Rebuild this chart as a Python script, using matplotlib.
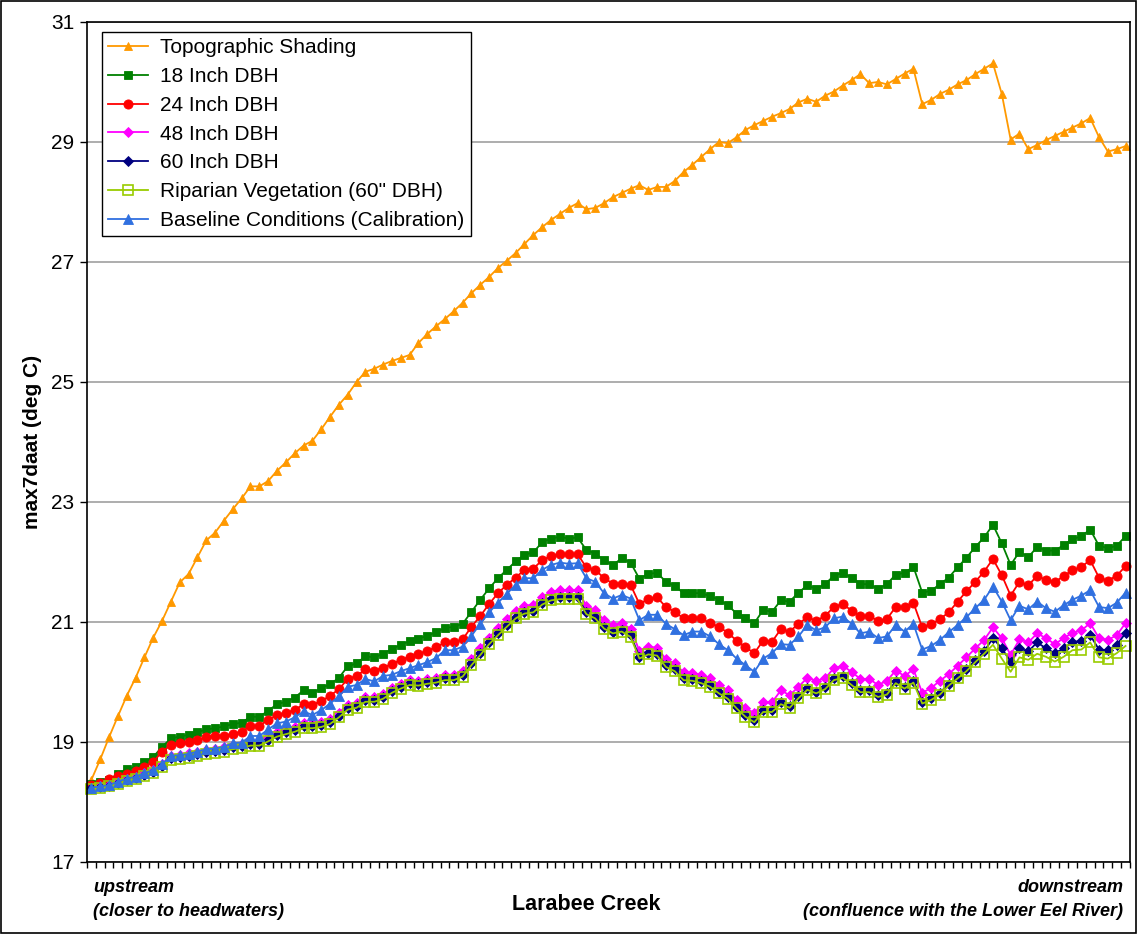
import numpy as np
import matplotlib
matplotlib.use("Agg")
import matplotlib.pyplot as plt
from matplotlib.patches import Rectangle

plt.rcParams.update({
    "font.family": ["Liberation Sans", "DejaVu Sans"],
    "font.size": 15,
})

# max7daat (deg C) along Larabee Creek, upstream -> downstream
topo = [18.37, 18.71, 19.08, 19.43, 19.77, 20.07, 20.41, 20.74, 21.02, 21.34,
        21.66, 21.80, 22.08, 22.36, 22.49, 22.69, 22.88, 23.06, 23.26, 23.26,
        23.35, 23.52, 23.66, 23.81, 23.94, 24.02, 24.21, 24.42, 24.62, 24.79,
        25.00, 25.17, 25.22, 25.29, 25.35, 25.40, 25.45, 25.65, 25.80, 25.93,
        26.05, 26.18, 26.32, 26.48, 26.62, 26.75, 26.90, 27.02, 27.15, 27.30,
        27.45, 27.58, 27.70, 27.80, 27.90, 27.98, 27.88, 27.90, 27.98, 28.08,
        28.15, 28.22, 28.28, 28.20, 28.25, 28.25, 28.35, 28.50, 28.62, 28.75,
        28.88, 29.00, 28.98, 29.08, 29.20, 29.28, 29.35, 29.42, 29.48, 29.55,
        29.66, 29.72, 29.67, 29.77, 29.84, 29.94, 30.03, 30.13, 29.98, 30.00,
        29.96, 30.05, 30.14, 30.22, 29.63, 29.70, 29.80, 29.87, 29.96, 30.03,
        30.13, 30.22, 30.31, 29.80, 29.04, 29.14, 28.88, 28.95, 29.03, 29.10,
        29.17, 29.24, 29.31, 29.40, 29.08, 28.84, 28.88, 28.93]

dbh18 = [18.30, 18.33, 18.37, 18.47, 18.55, 18.58, 18.67, 18.75, 18.92, 19.06,
         19.09, 19.12, 19.16, 19.21, 19.23, 19.26, 19.30, 19.32, 19.42, 19.42,
         19.52, 19.63, 19.67, 19.74, 19.86, 19.81, 19.90, 19.96, 20.07, 20.26,
         20.31, 20.43, 20.41, 20.47, 20.55, 20.62, 20.68, 20.72, 20.77, 20.83,
         20.90, 20.92, 20.97, 21.17, 21.37, 21.56, 21.73, 21.87, 22.01, 22.12,
         22.16, 22.33, 22.39, 22.42, 22.39, 22.41, 22.20, 22.14, 22.03, 21.95,
         22.06, 21.99, 21.72, 21.80, 21.82, 21.67, 21.60, 21.48, 21.48, 21.48,
         21.43, 21.37, 21.28, 21.14, 21.06, 20.98, 21.20, 21.17, 21.36, 21.34,
         21.49, 21.61, 21.55, 21.63, 21.77, 21.82, 21.74, 21.63, 21.63, 21.55,
         21.63, 21.79, 21.82, 21.92, 21.49, 21.52, 21.63, 21.74, 21.91, 22.07,
         22.25, 22.41, 22.62, 22.31, 21.95, 22.17, 22.08, 22.25, 22.19, 22.19,
         22.28, 22.38, 22.43, 22.54, 22.27, 22.23, 22.27, 22.43]

dbh24 = [18.28, 18.32, 18.38, 18.43, 18.47, 18.52, 18.59, 18.67, 18.84, 18.95,
         18.99, 19.00, 19.03, 19.08, 19.10, 19.10, 19.14, 19.17, 19.27, 19.27,
         19.37, 19.45, 19.49, 19.53, 19.63, 19.62, 19.68, 19.77, 19.88, 20.05,
         20.10, 20.21, 20.19, 20.24, 20.30, 20.37, 20.42, 20.47, 20.52, 20.58,
         20.66, 20.66, 20.71, 20.92, 21.10, 21.30, 21.48, 21.62, 21.74, 21.87,
         21.89, 22.03, 22.10, 22.13, 22.13, 22.13, 21.91, 21.87, 21.73, 21.64,
         21.64, 21.62, 21.30, 21.38, 21.41, 21.25, 21.17, 21.06, 21.06, 21.06,
         20.98, 20.92, 20.82, 20.69, 20.58, 20.48, 20.69, 20.67, 20.88, 20.84,
         20.97, 21.08, 21.02, 21.10, 21.25, 21.30, 21.19, 21.10, 21.10, 21.02,
         21.05, 21.25, 21.25, 21.32, 20.91, 20.96, 21.05, 21.16, 21.34, 21.51,
         21.67, 21.84, 22.05, 21.78, 21.44, 21.67, 21.61, 21.77, 21.70, 21.66,
         21.77, 21.86, 21.92, 22.03, 21.74, 21.69, 21.77, 21.93]

dbh48 = [18.24, 18.26, 18.29, 18.34, 18.39, 18.42, 18.48, 18.53, 18.64, 18.77,
         18.79, 18.81, 18.84, 18.87, 18.89, 18.91, 18.95, 18.97, 19.02, 19.02,
         19.09, 19.17, 19.21, 19.25, 19.31, 19.31, 19.33, 19.38, 19.49, 19.62,
         19.65, 19.75, 19.75, 19.80, 19.90, 19.97, 20.03, 20.02, 20.05, 20.07,
         20.12, 20.12, 20.18, 20.38, 20.56, 20.74, 20.90, 21.05, 21.19, 21.27,
         21.29, 21.42, 21.50, 21.53, 21.53, 21.53, 21.27, 21.20, 21.03, 20.95,
         20.98, 20.89, 20.52, 20.59, 20.57, 20.38, 20.31, 20.16, 20.15, 20.12,
         20.06, 19.95, 19.86, 19.70, 19.57, 19.48, 19.66, 19.66, 19.86, 19.78,
         19.92, 20.07, 20.02, 20.06, 20.23, 20.27, 20.17, 20.05, 20.05, 19.95,
         20.02, 20.19, 20.10, 20.21, 19.82, 19.90, 20.02, 20.13, 20.27, 20.41,
         20.56, 20.70, 20.91, 20.73, 20.45, 20.71, 20.66, 20.81, 20.73, 20.63,
         20.73, 20.82, 20.86, 20.98, 20.73, 20.70, 20.78, 20.98]

dbh60 = [18.23, 18.25, 18.27, 18.32, 18.37, 18.40, 18.45, 18.50, 18.60, 18.73,
         18.75, 18.77, 18.80, 18.83, 18.85, 18.87, 18.91, 18.93, 18.97, 18.97,
         19.04, 19.12, 19.16, 19.20, 19.26, 19.26, 19.28, 19.33, 19.44, 19.57,
         19.60, 19.70, 19.70, 19.75, 19.85, 19.92, 19.98, 19.97, 20.00, 20.02,
         20.06, 20.06, 20.12, 20.31, 20.48, 20.66, 20.81, 20.95, 21.09, 21.17,
         21.19, 21.32, 21.39, 21.41, 21.41, 21.41, 21.16, 21.09, 20.92, 20.84,
         20.87, 20.78, 20.42, 20.49, 20.47, 20.28, 20.21, 20.06, 20.05, 20.01,
         19.95, 19.84, 19.75, 19.59, 19.45, 19.36, 19.53, 19.53, 19.66, 19.60,
         19.76, 19.90, 19.84, 19.91, 20.06, 20.10, 19.98, 19.86, 19.86, 19.78,
         19.82, 20.01, 19.92, 20.02, 19.67, 19.73, 19.82, 19.97, 20.09, 20.21,
         20.36, 20.51, 20.73, 20.56, 20.34, 20.56, 20.51, 20.66, 20.56, 20.48,
         20.56, 20.66, 20.69, 20.78, 20.54, 20.53, 20.62, 20.81]

riparian = [18.22, 18.24, 18.26, 18.30, 18.35, 18.38, 18.43, 18.48, 18.58, 18.70,
            18.72, 18.74, 18.77, 18.80, 18.82, 18.84, 18.88, 18.90, 18.94, 18.94,
            19.01, 19.09, 19.13, 19.17, 19.23, 19.23, 19.25, 19.30, 19.41, 19.54,
            19.57, 19.67, 19.67, 19.72, 19.82, 19.89, 19.95, 19.94, 19.97, 19.99,
            20.03, 20.03, 20.09, 20.28, 20.45, 20.63, 20.78, 20.92, 21.06, 21.14,
            21.16, 21.29, 21.36, 21.38, 21.38, 21.38, 21.13, 21.06, 20.89, 20.81,
            20.84, 20.75, 20.39, 20.46, 20.44, 20.25, 20.18, 20.03, 20.02, 19.98,
            19.92, 19.81, 19.72, 19.56, 19.42, 19.33, 19.50, 19.50, 19.63, 19.57,
            19.73, 19.87, 19.81, 19.88, 20.03, 20.07, 19.95, 19.83, 19.83, 19.75,
            19.79, 19.98, 19.89, 19.99, 19.64, 19.70, 19.79, 19.94, 20.06, 20.18,
            20.33, 20.47, 20.62, 20.39, 20.17, 20.41, 20.37, 20.47, 20.42, 20.34,
            20.42, 20.53, 20.54, 20.66, 20.41, 20.39, 20.48, 20.60]

baseline = [18.24, 18.26, 18.28, 18.34, 18.39, 18.42, 18.48, 18.53, 18.63, 18.77,
            18.78, 18.80, 18.84, 18.88, 18.89, 18.92, 18.98, 18.99, 19.10, 19.10,
            19.21, 19.31, 19.34, 19.41, 19.51, 19.45, 19.53, 19.64, 19.76, 19.92,
            19.95, 20.05, 20.01, 20.10, 20.12, 20.18, 20.23, 20.28, 20.33, 20.40,
            20.53, 20.53, 20.59, 20.77, 20.97, 21.16, 21.32, 21.47, 21.62, 21.73,
            21.73, 21.87, 21.95, 21.99, 21.97, 21.98, 21.73, 21.67, 21.48, 21.39,
            21.45, 21.39, 21.03, 21.12, 21.12, 20.97, 20.88, 20.78, 20.84, 20.84,
            20.76, 20.63, 20.53, 20.39, 20.28, 20.17, 20.39, 20.48, 20.63, 20.62,
            20.76, 20.95, 20.86, 20.91, 21.06, 21.09, 20.97, 20.81, 20.84, 20.73,
            20.76, 20.95, 20.84, 20.97, 20.54, 20.60, 20.70, 20.83, 20.95, 21.08,
            21.23, 21.37, 21.59, 21.34, 21.03, 21.27, 21.21, 21.34, 21.23, 21.17,
            21.28, 21.37, 21.44, 21.53, 21.25, 21.23, 21.32, 21.49]

series = [
    ("Topographic Shading", topo, "#FF9900", "^", 5.2, None),
    ("18 Inch DBH", dbh18, "#008000", "s", 6.0, None),
    ("24 Inch DBH", dbh24, "#FF0000", "o", 6.6, None),
    ("48 Inch DBH", dbh48, "#FF00FF", "D", 5.2, None),
    ("60 Inch DBH", dbh60, "#000080", "D", 4.8, None),
    ('Riparian Vegetation (60" DBH)', riparian, "#99CC00", "s", 6.8, "none"),
    ("Baseline Conditions (Calibration)", baseline, "#3070E0", "^", 7.0, None),
]
n_pts = len(topo)
for _, vals, *_ in series:
    assert len(vals) == n_pts, len(vals)

fig = plt.figure(figsize=(11.37, 9.34), dpi=100)
ax = fig.add_axes([0.0765, 0.0771, 0.9173, 0.8994])

x = np.arange(n_pts) + 0.5
for label, vals, color, marker, ms, face in series:
    ax.plot(x, vals, color=color, lw=1.3, marker=marker, markersize=ms,
            markerfacecolor=color if face is None else face,
            markeredgecolor=color, markeredgewidth=1.2 if face else 0.6,
            label=label, clip_on=False)

ax.set_xlim(0, n_pts)
ax.set_ylim(17, 31)
ax.set_yticks(np.arange(17, 32, 2))
ax.set_xticks(np.arange(0, n_pts + 1))
ax.set_xticklabels([])
ax.tick_params(axis="x", direction="out", length=4, width=1)
ax.tick_params(axis="y", direction="out", length=5, width=1, labelsize=15, pad=4)
ax.grid(axis="y", color="#A0A0A0", lw=1.2)
ax.set_axisbelow(True)
for sp in ax.spines.values():
    sp.set_color("black")
    sp.set_linewidth(1.2)

ax.set_ylabel("max7daat (deg C)", fontweight="bold", fontsize=15, labelpad=7)

leg = ax.legend(loc="upper left", bbox_to_anchor=(0.0144, 0.988), borderaxespad=0,
                fancybox=False, edgecolor="black", framealpha=1, fontsize=15,
                handlelength=1.9, handletextpad=0.6, labelspacing=0.47,
                borderpad=0.3)
leg.get_frame().set_linewidth(1.0)

fig.text(93 / 1137, 1 - 888 / 934, "upstream", fontsize=13, fontweight="bold",
         style="italic", ha="left", va="center")
fig.text(93 / 1137, 1 - 912 / 934, "(closer to headwaters)", fontsize=13,
         fontweight="bold", style="italic", ha="left", va="center")
fig.text(1123 / 1137, 1 - 888 / 934, "downstream", fontsize=13, fontweight="bold",
         style="italic", ha="right", va="center")
fig.text(1123 / 1137, 1 - 912 / 934, "(confluence with the Lower Eel River)",
         fontsize=13, fontweight="bold", style="italic", ha="right", va="center")
fig.text(586 / 1137, 1 - 904 / 934, "Larabee Creek", fontsize=15.5,
         fontweight="bold", ha="center", va="center")

fig.patches.append(Rectangle((0.001, 0.001), 0.998, 0.998, transform=fig.transFigure,
                             fill=False, edgecolor="black", lw=1.2))

fig.savefig("out.png", dpi=100, facecolor="white")
